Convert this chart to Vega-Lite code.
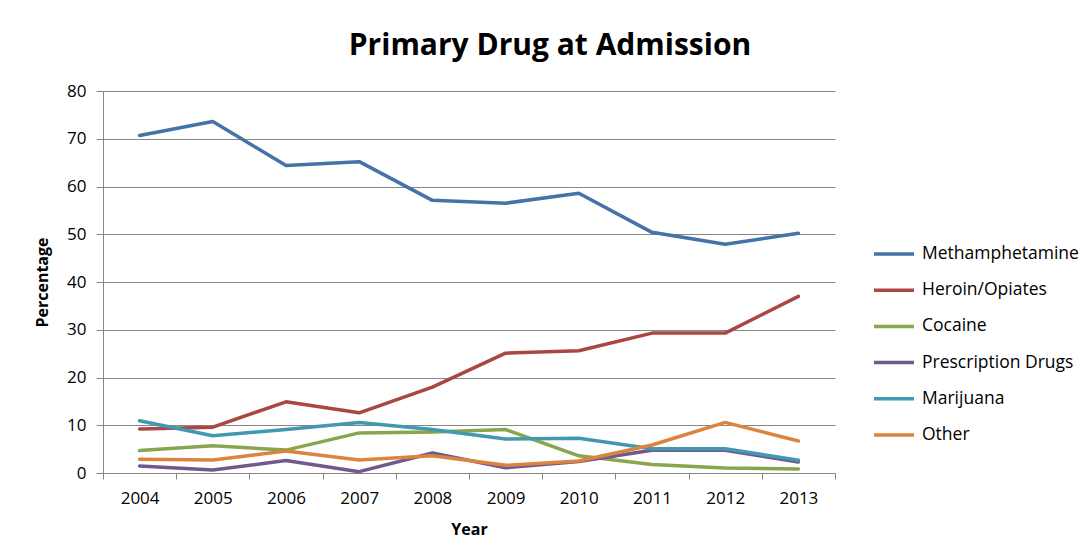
{
  "$schema": "https://vega.github.io/schema/vega-lite/v6.json",
  "width": 732,
  "height": 382,
  "autosize": {"type": "none"},
  "padding": {"left": 103, "top": 91, "right": 251, "bottom": 85},
  "background": "white",
  "title": {
    "text": "Primary Drug at Admission",
    "font": "Open Sans",
    "fontSize": 30,
    "fontWeight": "bold",
    "color": "#000000",
    "anchor": "middle",
    "dx": 81,
    "offset": 21
  },
  "data": {
    "values": [
      {"Year": "2004", "Drug": "Methamphetamine", "Pct": 70.7},
      {"Year": "2005", "Drug": "Methamphetamine", "Pct": 73.6},
      {"Year": "2006", "Drug": "Methamphetamine", "Pct": 64.4},
      {"Year": "2007", "Drug": "Methamphetamine", "Pct": 65.2},
      {"Year": "2008", "Drug": "Methamphetamine", "Pct": 57.1},
      {"Year": "2009", "Drug": "Methamphetamine", "Pct": 56.5},
      {"Year": "2010", "Drug": "Methamphetamine", "Pct": 58.6},
      {"Year": "2011", "Drug": "Methamphetamine", "Pct": 50.4},
      {"Year": "2012", "Drug": "Methamphetamine", "Pct": 47.9},
      {"Year": "2013", "Drug": "Methamphetamine", "Pct": 50.2},
      {"Year": "2004", "Drug": "Heroin/Opiates", "Pct": 9.2},
      {"Year": "2005", "Drug": "Heroin/Opiates", "Pct": 9.6},
      {"Year": "2006", "Drug": "Heroin/Opiates", "Pct": 14.9},
      {"Year": "2007", "Drug": "Heroin/Opiates", "Pct": 12.6},
      {"Year": "2008", "Drug": "Heroin/Opiates", "Pct": 18.0},
      {"Year": "2009", "Drug": "Heroin/Opiates", "Pct": 25.1},
      {"Year": "2010", "Drug": "Heroin/Opiates", "Pct": 25.6},
      {"Year": "2011", "Drug": "Heroin/Opiates", "Pct": 29.3},
      {"Year": "2012", "Drug": "Heroin/Opiates", "Pct": 29.3},
      {"Year": "2013", "Drug": "Heroin/Opiates", "Pct": 37.0},
      {"Year": "2004", "Drug": "Cocaine", "Pct": 4.7},
      {"Year": "2005", "Drug": "Cocaine", "Pct": 5.7},
      {"Year": "2006", "Drug": "Cocaine", "Pct": 4.8},
      {"Year": "2007", "Drug": "Cocaine", "Pct": 8.4},
      {"Year": "2008", "Drug": "Cocaine", "Pct": 8.6},
      {"Year": "2009", "Drug": "Cocaine", "Pct": 9.1},
      {"Year": "2010", "Drug": "Cocaine", "Pct": 3.6},
      {"Year": "2011", "Drug": "Cocaine", "Pct": 1.8},
      {"Year": "2012", "Drug": "Cocaine", "Pct": 1.05},
      {"Year": "2013", "Drug": "Cocaine", "Pct": 0.84},
      {"Year": "2004", "Drug": "Prescription Drugs", "Pct": 1.47},
      {"Year": "2005", "Drug": "Prescription Drugs", "Pct": 0.63},
      {"Year": "2006", "Drug": "Prescription Drugs", "Pct": 2.6},
      {"Year": "2007", "Drug": "Prescription Drugs", "Pct": 0.28},
      {"Year": "2008", "Drug": "Prescription Drugs", "Pct": 4.2},
      {"Year": "2009", "Drug": "Prescription Drugs", "Pct": 1.1},
      {"Year": "2010", "Drug": "Prescription Drugs", "Pct": 2.4},
      {"Year": "2011", "Drug": "Prescription Drugs", "Pct": 4.75},
      {"Year": "2012", "Drug": "Prescription Drugs", "Pct": 4.75},
      {"Year": "2013", "Drug": "Prescription Drugs", "Pct": 2.3},
      {"Year": "2004", "Drug": "Marijuana", "Pct": 10.95},
      {"Year": "2005", "Drug": "Marijuana", "Pct": 7.8},
      {"Year": "2006", "Drug": "Marijuana", "Pct": 9.1},
      {"Year": "2007", "Drug": "Marijuana", "Pct": 10.6},
      {"Year": "2008", "Drug": "Marijuana", "Pct": 9.1},
      {"Year": "2009", "Drug": "Marijuana", "Pct": 7.1},
      {"Year": "2010", "Drug": "Marijuana", "Pct": 7.3},
      {"Year": "2011", "Drug": "Marijuana", "Pct": 5.1},
      {"Year": "2012", "Drug": "Marijuana", "Pct": 5.1},
      {"Year": "2013", "Drug": "Marijuana", "Pct": 2.65},
      {"Year": "2004", "Drug": "Other", "Pct": 2.87},
      {"Year": "2005", "Drug": "Other", "Pct": 2.7},
      {"Year": "2006", "Drug": "Other", "Pct": 4.6},
      {"Year": "2007", "Drug": "Other", "Pct": 2.7},
      {"Year": "2008", "Drug": "Other", "Pct": 3.6},
      {"Year": "2009", "Drug": "Other", "Pct": 1.6},
      {"Year": "2010", "Drug": "Other", "Pct": 2.5},
      {"Year": "2011", "Drug": "Other", "Pct": 5.86},
      {"Year": "2012", "Drug": "Other", "Pct": 10.6},
      {"Year": "2013", "Drug": "Other", "Pct": 6.7}
    ]
  },
  "mark": {"type": "line", "strokeWidth": 3.5, "strokeCap": "round", "strokeJoin": "round"},
  "encoding": {
    "x": {
      "field": "Year",
      "type": "ordinal",
      "scale": {"paddingInner": 0, "paddingOuter": 0},
      "axis": {
        "title": "Year",
        "labelAngle": 0,
        "tickBand": "extent",
        "tickSize": 6,
        "labelPadding": 11,
        "titlePadding": 15
      }
    },
    "y": {
      "field": "Pct",
      "type": "quantitative",
      "scale": {"domain": [0, 80], "nice": false},
      "axis": {
        "title": "Percentage",
        "values": [0, 10, 20, 30, 40, 50, 60, 70, 80],
        "tickSize": 7,
        "labelPadding": 10,
        "titlePadding": 16,
        "grid": true
      }
    },
    "color": {
      "field": "Drug",
      "type": "nominal",
      "sort": null,
      "scale": {
        "domain": ["Methamphetamine", "Heroin/Opiates", "Cocaine", "Prescription Drugs", "Marijuana", "Other"],
        "range": ["#4572A7", "#AA4643", "#89A54E", "#71588F", "#4198AF", "#DB843D"]
      },
      "legend": {
        "title": null,
        "orient": "none",
        "legendX": 779,
        "legendY": 151,
        "padding": 0,
        "symbolType": "M-2,0L2,0",
        "symbolSize": 400,
        "symbolStrokeWidth": 3.5,
        "labelOffset": 16,
        "rowPadding": 15.2,
        "labelFont": "Open Sans",
        "labelFontSize": 17.5,
        "labelColor": "#000000",
        "labelLimit": 300
      }
    }
  },
  "config": {
    "view": {"stroke": null},
    "axis": {
      "domainColor": "#868686",
      "tickColor": "#868686",
      "gridColor": "#868686",
      "gridOpacity": 1,
      "domainWidth": 1,
      "labelFont": "Open Sans",
      "labelFontSize": 17,
      "labelColor": "#000000",
      "titleFont": "Open Sans",
      "titleFontSize": 16,
      "titleFontWeight": "bold",
      "titleColor": "#000000"
    },
    "axisX": {"grid": false}
  }
}
